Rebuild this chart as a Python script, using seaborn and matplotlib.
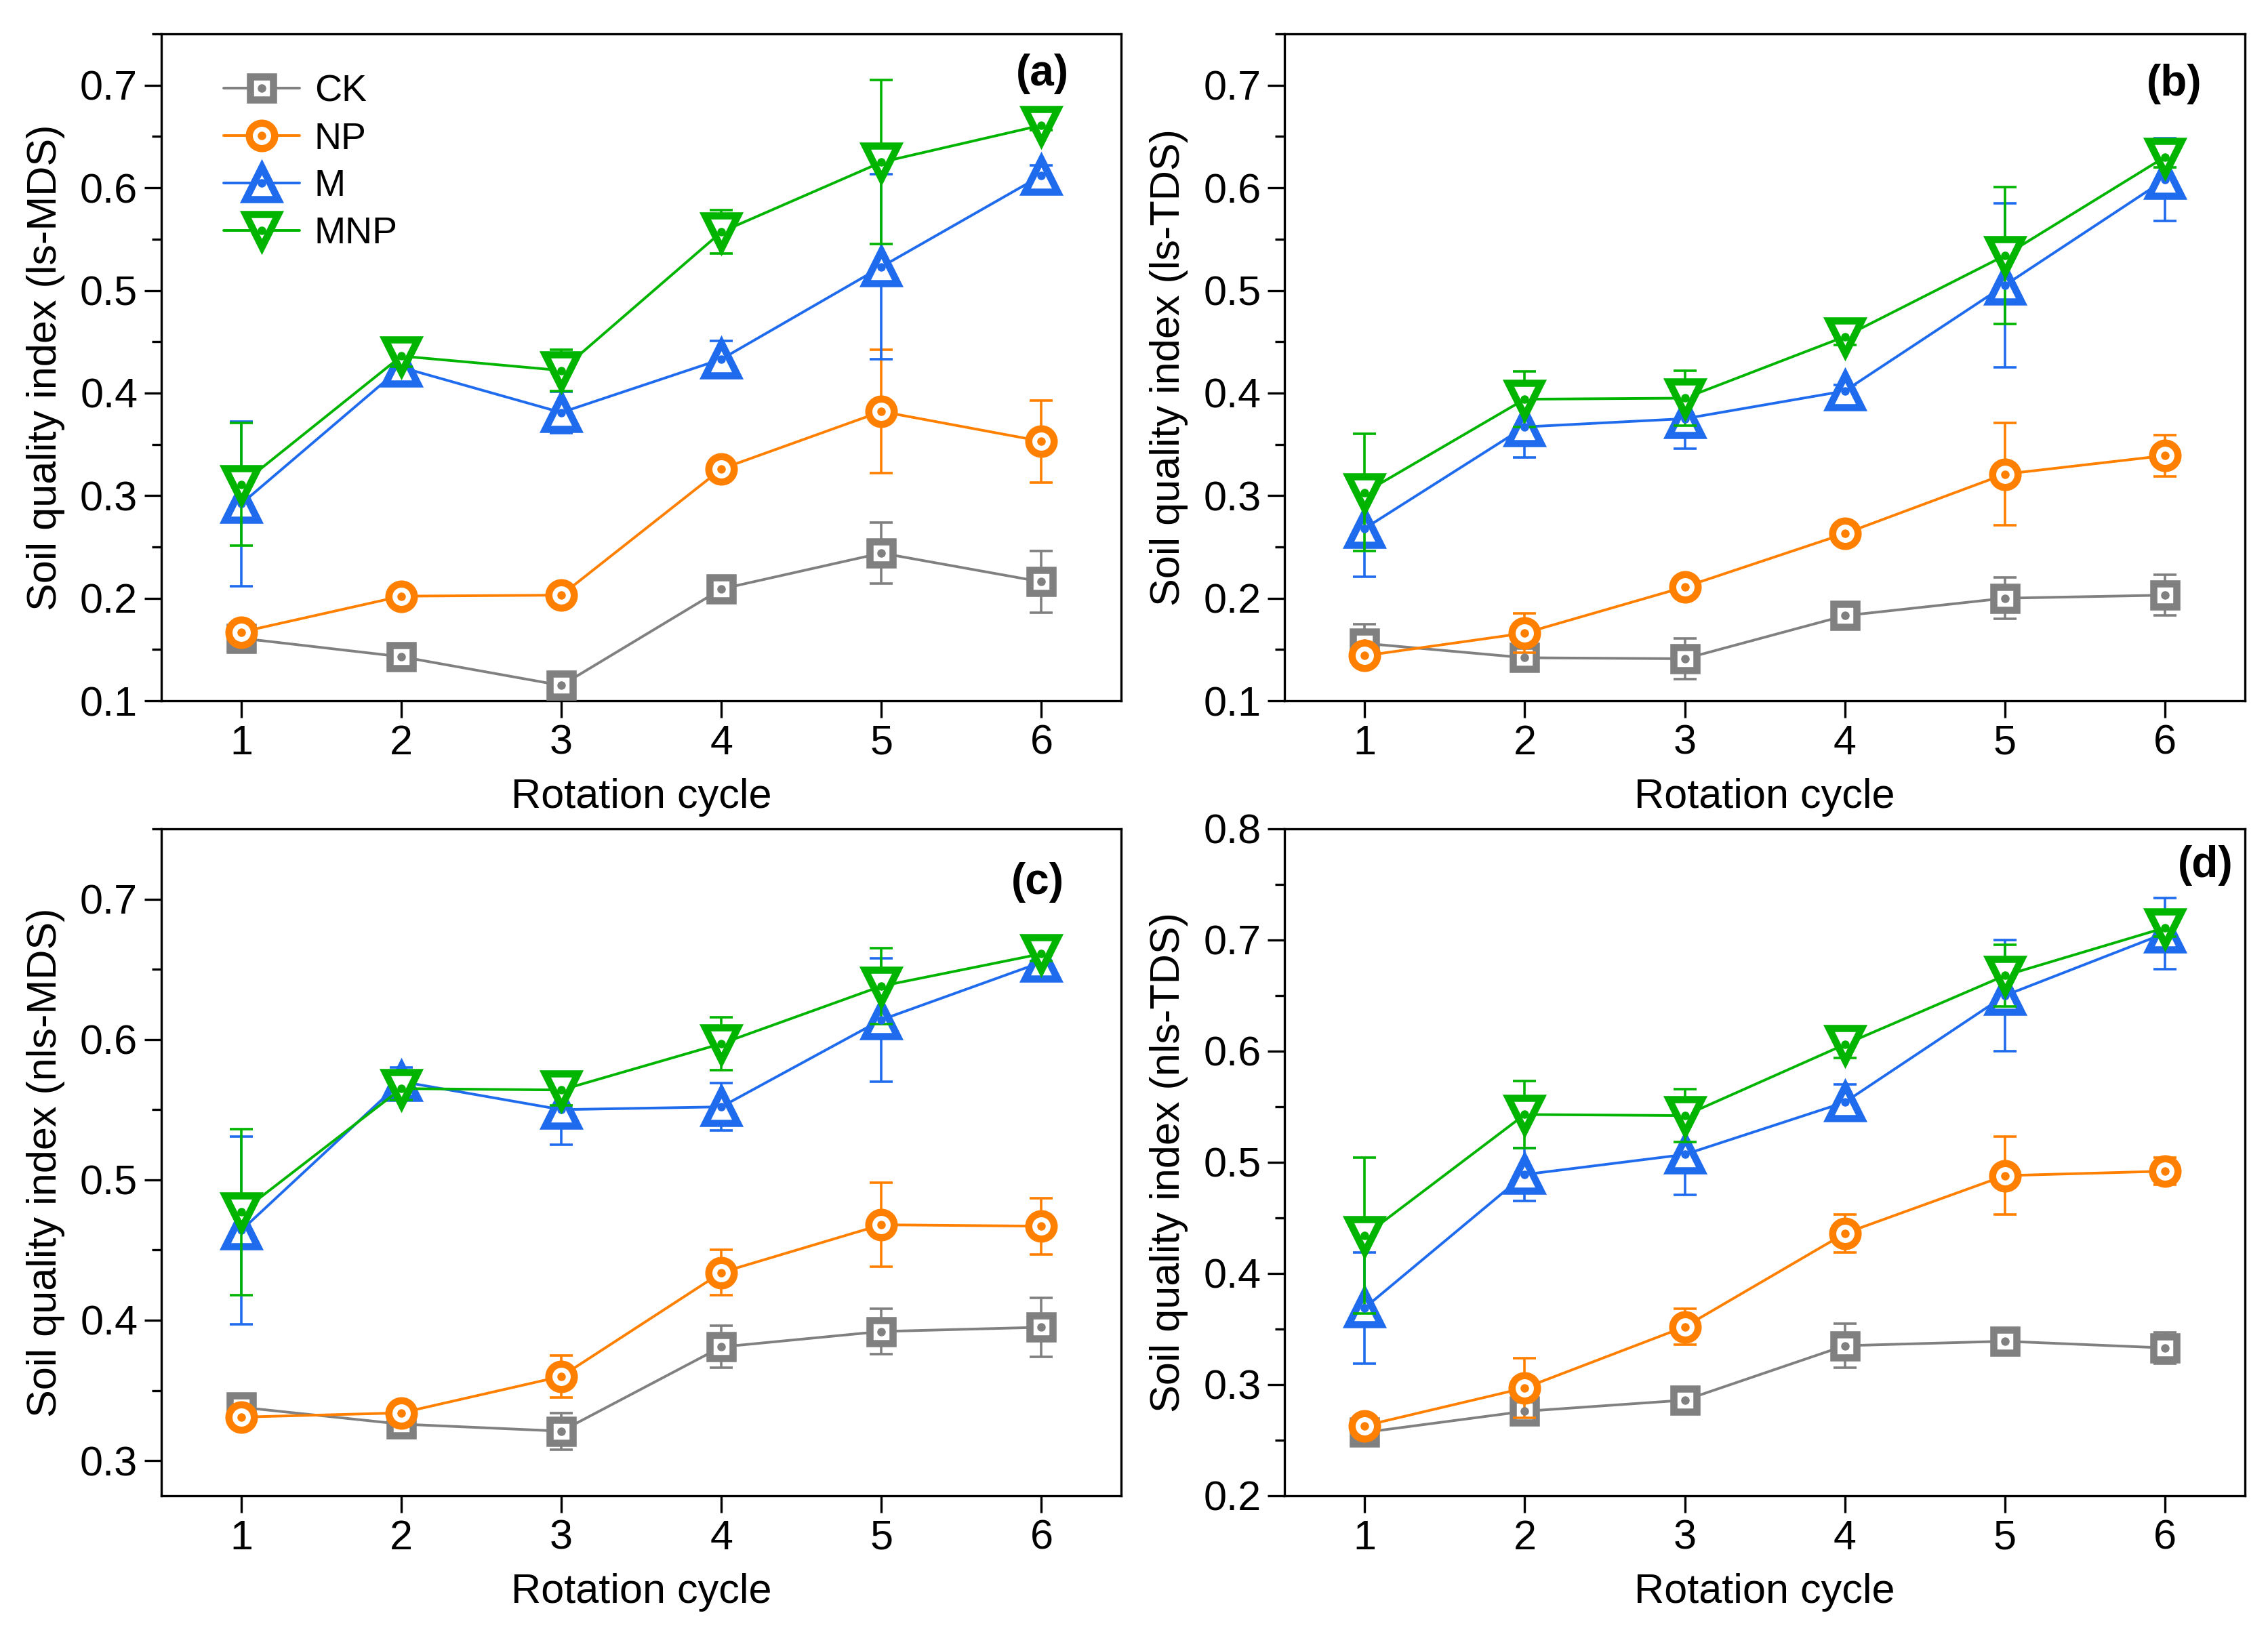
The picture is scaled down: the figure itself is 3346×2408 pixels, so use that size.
import numpy as np
import pandas as pd
import seaborn as sns
import matplotlib.pyplot as plt
from matplotlib.ticker import MultipleLocator
from matplotlib.legend_handler import HandlerTuple
from matplotlib.lines import Line2D

# rotation cycles and treatments
cycles = [1, 2, 3, 4, 5, 6]
treatments = ["CK", "NP", "M", "MNP"]

# (a) ls-MDS
mean_a = {"CK": [0.161, 0.143, 0.115, 0.209, 0.244, 0.216],
          "NP": [0.167, 0.202, 0.203, 0.326, 0.382, 0.353],
          "M": [0.292, 0.425, 0.381, 0.433, 0.523, 0.612],
          "MNP": [0.311, 0.436, 0.422, 0.557, 0.625, 0.661]}
err_a = {"CK": [0.005, 0.005, 0.007, 0.006, 0.030, 0.030],
         "NP": [0.004, 0.004, 0.004, 0.005, 0.060, 0.040],
         "M": [0.080, 0.018, 0.020, 0.018, 0.090, 0.010],
         "MNP": [0.060, 0.010, 0.020, 0.021, 0.080, 0.005]}

# (b) ls-TDS
mean_b = {"CK": [0.156, 0.142, 0.141, 0.183, 0.200, 0.203],
          "NP": [0.144, 0.166, 0.211, 0.263, 0.321, 0.339],
          "M": [0.268, 0.367, 0.375, 0.402, 0.505, 0.608],
          "MNP": [0.303, 0.394, 0.395, 0.455, 0.534, 0.630]}
err_b = {"CK": [0.019, 0.005, 0.020, 0.005, 0.020, 0.020],
         "NP": [0.005, 0.019, 0.005, 0.005, 0.050, 0.020],
         "M": [0.047, 0.030, 0.029, 0.006, 0.080, 0.040],
         "MNP": [0.057, 0.027, 0.027, 0.008, 0.067, 0.010]}

# (c) nls-MDS
mean_c = {"CK": [0.338, 0.326, 0.321, 0.381, 0.392, 0.395],
          "NP": [0.331, 0.334, 0.360, 0.434, 0.468, 0.467],
          "M": [0.464, 0.570, 0.550, 0.552, 0.614, 0.655],
          "MNP": [0.477, 0.565, 0.564, 0.597, 0.638, 0.661]}
err_c = {"CK": [0.004, 0.004, 0.013, 0.015, 0.016, 0.021],
         "NP": [0.004, 0.004, 0.015, 0.016, 0.030, 0.020],
         "M": [0.067, 0.010, 0.025, 0.017, 0.044, 0.005],
         "MNP": [0.059, 0.008, 0.011, 0.019, 0.027, 0.005]}

# (d) nls-TDS
mean_d = {"CK": [0.257, 0.276, 0.286, 0.335, 0.339, 0.333],
          "NP": [0.263, 0.297, 0.352, 0.436, 0.488, 0.492],
          "M": [0.369, 0.489, 0.507, 0.554, 0.650, 0.706],
          "MNP": [0.434, 0.543, 0.542, 0.606, 0.668, 0.711]}
err_d = {"CK": [0.004, 0.005, 0.004, 0.020, 0.004, 0.014],
         "NP": [0.005, 0.027, 0.016, 0.017, 0.035, 0.012],
         "M": [0.050, 0.024, 0.036, 0.016, 0.050, 0.032],
         "MNP": [0.070, 0.030, 0.024, 0.012, 0.028, 0.008]}

panel_labels = ["(a)", "(b)", "(c)", "(d)"]
ylabels = ["Soil quality index (ls-MDS)", "Soil quality index (ls-TDS)",
           "Soil quality index (nls-MDS)", "Soil quality index (nls-TDS)"]

colors = {"CK": "#808080", "NP": "#FF8000", "M": "#1F6BEE", "MNP": "#00B400"}
markers = {"CK": "s", "NP": "o", "M": "^", "MNP": "v"}
msizes = {"CK": 12.5, "NP": 13.5, "M": 17, "MNP": 17}

sns.set_theme(style="ticks")
plt.rcParams['font.family'] = ['Liberation Sans', 'DejaVu Sans']
plt.rcParams['axes.linewidth'] = 1.2
plt.rcParams['text.color'] = 'black'
plt.rcParams['axes.labelcolor'] = 'black'
plt.rcParams['xtick.color'] = 'black'
plt.rcParams['ytick.color'] = 'black'
plt.rcParams['axes.edgecolor'] = 'black'

fig, axes = plt.subplots(2, 2, figsize=(16.73, 12.04), dpi=200)
plt.subplots_adjust(left=0.0711, right=0.9898, top=0.9792, bottom=0.0835,
                    wspace=0.170, hspace=0.192)

panels = [(mean_a, err_a), (mean_b, err_b), (mean_c, err_c), (mean_d, err_d)]
ylims = [(0.1, 0.75), (0.1, 0.75), (0.275, 0.75), (0.2, 0.8)]
label_pos = [(0.945, 0.94), (0.955, 0.925), (0.94, 0.92), (0.988, 0.945)]

for k, ax in enumerate(axes.flat):
    means, errs = panels[k]
    rows = []
    for t in treatments:
        for c, m, e in zip(cycles, means[t], errs[t]):
            rows.append({"cycle": c, "value": m, "err": e, "treatment": t})
    df = pd.DataFrame(rows)

    handles = []
    for i, t in enumerate(treatments):
        sub = df[df["treatment"] == t]
        ax.errorbar(sub["cycle"], sub["value"], yerr=sub["err"], fmt="none",
                    ecolor=colors[t], elinewidth=1.3, capsize=6, capthick=1.3,
                    zorder=2 + i)
        sns.lineplot(data=sub, x="cycle", y="value", ax=ax, color=colors[t],
                     marker=markers[t], markersize=msizes[t],
                     markerfacecolor="white", markeredgecolor=colors[t],
                     markeredgewidth=3.8, linewidth=1.4, zorder=3 + i,
                     legend=False)
        ax.plot(sub["cycle"], sub["value"], linestyle="none", marker="o",
                markersize=3.5, color=colors[t], zorder=4 + i)
        h1 = Line2D([], [], color=colors[t], marker=markers[t],
                    markersize=msizes[t], markerfacecolor="white",
                    markeredgecolor=colors[t], markeredgewidth=3.8, linewidth=1.4)
        h2 = Line2D([], [], color=colors[t], marker="o", markersize=3.5,
                    linestyle="none")
        handles.append((h1, h2))

    ax.set_xlim(0.5, 6.5)
    ax.set_ylim(*ylims[k])
    ax.set_xticks(cycles)
    ax.yaxis.set_major_locator(MultipleLocator(0.1))
    ax.yaxis.set_minor_locator(MultipleLocator(0.05))
    ax.yaxis.set_major_formatter(plt.FuncFormatter(lambda v, p: f"{v:.1f}"))
    ax.tick_params(axis="both", which="major", direction="out", length=9,
                   width=1.2, labelsize=22, top=False, right=False, color="black")
    ax.tick_params(axis="y", which="minor", direction="out", length=5, width=1.2)
    for s in ax.spines.values():
        s.set_visible(True)
        s.set_color("black")
        s.set_linewidth(1.2)
    ax.set_xlabel("Rotation cycle", fontsize=22, labelpad=8)
    ax.set_ylabel(ylabels[k], fontsize=22, labelpad=8)
    ax.text(label_pos[k][0], label_pos[k][1], panel_labels[k],
            transform=ax.transAxes, fontsize=23, fontweight="bold",
            ha="right", va="center")

    if k == 0:
        ax.legend(handles, treatments, loc="upper left",
                  bbox_to_anchor=(0.03, 0.99), frameon=False, fontsize=20,
                  handlelength=2.0, handletextpad=0.4, labelspacing=0.32,
                  handler_map={tuple: HandlerTuple(ndivide=1)})

fig.savefig("out.png", dpi=200)
